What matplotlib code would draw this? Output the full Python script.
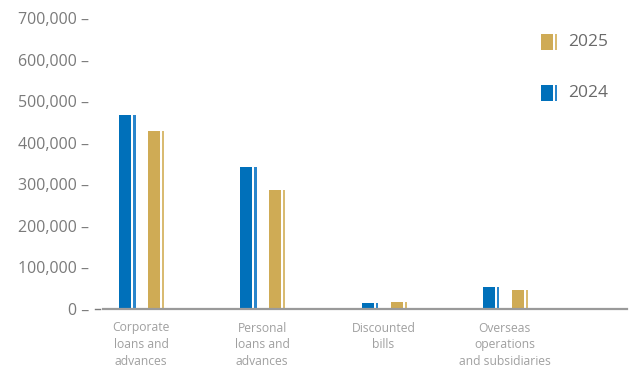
import numpy as np
import matplotlib.pyplot as plt

plt.rcParams['font.family'] = ['Open Sans', 'DejaVu Sans']

categories = ['Corporate\nloans and\nadvances', 'Personal\nloans and\nadvances',
              'Discounted\nbills', 'Overseas\noperations\nand subsidiaries']
v2024 = [466000, 341000, 15000, 53000]
v2025 = [428000, 286000, 17000, 46000]
yticks = [0, 100000, 200000, 300000, 400000, 500000, 600000, 700000]

blue, blue_l = '#0070ba', '#2a86cc'
gold, gold_l = '#cfab55', '#d9bb72'

W, H = 633, 368
fig = plt.figure(figsize=(W / 100, H / 100), dpi=100)
ax = fig.add_axes([103 / W, 59 / H, 524 / W, 291 / H])

px = 1 / 121.3  # data units per pixel
x = np.arange(len(categories))

# main bars + thin stripe next to each
ax.bar(x - 22 * px, v2024, width=12 * px, align='edge', color=blue, linewidth=0)
ax.bar(x - 8 * px, v2024, width=2.5 * px, align='edge', color=blue_l, linewidth=0)
ax.bar(x + 7 * px, v2025, width=12 * px, align='edge', color=gold, linewidth=0)
ax.bar(x + 21 * px, v2025, width=2.2 * px, align='edge', color=gold_l, linewidth=0)

ax.set_xlim(-38 * px, 486 * px)
ax.set_ylim(0, 700000)

for s in ['top', 'right', 'left']:
    ax.spines[s].set_visible(False)
ax.spines['bottom'].set_color('#9a9a9a')
ax.spines['bottom'].set_linewidth(1.6)

ax.set_yticks(yticks)
ax.set_yticklabels([f'{v:,} –' for v in yticks], color='#7a7a7a', fontsize=11.5)
ax.tick_params(axis='y', length=0, pad=10)
ax.plot([-0.016, -0.006], [0, 0], transform=ax.transAxes, color='#7a7a7a',
        lw=1, clip_on=False)

ax.set_xticks(x)
ax.set_xticklabels(categories, color='#a0a0a0', fontsize=8.7, linespacing=1.38, va='top')
ax.tick_params(axis='x', length=0, pad=9)

# legend
for yy, c, cl, lab in [(42, gold, gold_l, '2025'), (93, blue, blue_l, '2024')]:
    fig.patches.append(plt.Rectangle((541 / W, 1 - (yy + 8) / H), 12 / W, 16 / H,
                                     transform=fig.transFigure, color=c, lw=0))
    fig.patches.append(plt.Rectangle((555 / W, 1 - (yy + 8) / H), 2 / W, 16 / H,
                                     transform=fig.transFigure, color=cl, lw=0))
    fig.text(568 / W, 1 - yy / H, lab, color='#6a6a6a', fontsize=12.5, va='center')

fig.savefig('out.png', dpi=100)
